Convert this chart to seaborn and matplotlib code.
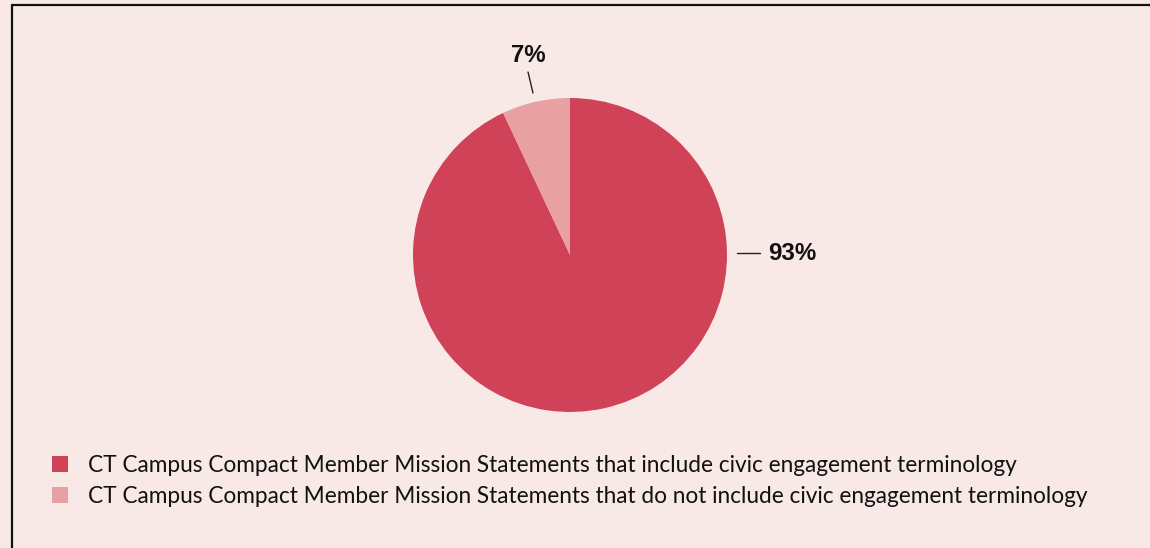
import matplotlib.pyplot as plt
import seaborn as sns
from matplotlib.lines import Line2D

# data
labels = [
    "CT Campus Compact Member Mission Statements that include civic engagement terminology",
    "CT Campus Compact Member Mission Statements that do not include civic engagement terminology",
]
values = [93, 7]
pct_text = ["93%", "7%"]
colors = ["#CF4258", "#E8A0A2"]
bg = "#F8E9E7"

sns.set_theme(style="white")
plt.rcParams["font.family"] = ["Lato", "DejaVu Sans"]

W, H = 1150, 548
fig = plt.figure(figsize=(W / 100, H / 100), dpi=100, facecolor=bg)

# pie centred at (570, 255) px, radius 157 px
cx, cy, r = 570, 255, 157
ax = fig.add_axes([0, 0, 1, 1])
ax.set_facecolor(bg)
wedges, _ = ax.pie(values, colors=colors, startangle=90, counterclock=False,
                   radius=1, wedgeprops=dict(linewidth=0))
ax.set_xlim(-cx / r, (W - cx) / r)
ax.set_ylim(-(H - cy) / r, cy / r)
ax.set_aspect("auto")
ax.axis("off")

def px(x, y):
    return (x - cx) / r, (cy - y) / r

# labels with leader lines
ax.add_line(Line2D(*zip(px(737, 253), px(760, 253)), color="#222222", lw=1))
ax.text(*px(768, 253), pct_text[0], fontsize=17.3, fontweight="bold", family="Liberation Sans",
        ha="left", va="center", color="#111111")
ax.add_line(Line2D(*zip(px(528, 72), px(533, 93)), color="#222222", lw=1))
ax.text(*px(528, 55), pct_text[1], fontsize=17.3, fontweight="bold", family="Liberation Sans",
        ha="center", va="center", color="#111111")

# frame lines (left and top)
fig.add_artist(Line2D([11.5 / W, 11.5 / W], [0, 1 - 4.5 / H], transform=fig.transFigure,
                      color="#111111", lw=1.6))
fig.add_artist(Line2D([11.5 / W, 1], [1 - 4.5 / H, 1 - 4.5 / H], transform=fig.transFigure,
                      color="#111111", lw=1.6))

leg = fig.legend(wedges, labels, loc="upper left", bbox_to_anchor=(52 / W, 1 - 455 / H),
                 frameon=False, fontsize=16.3, handlelength=0.72, handleheight=0.72,
                 handletextpad=0.88, labelspacing=0.42, borderpad=0, borderaxespad=0,
                 labelcolor="#111111")

fig.savefig("out.png", dpi=100, facecolor=bg)
